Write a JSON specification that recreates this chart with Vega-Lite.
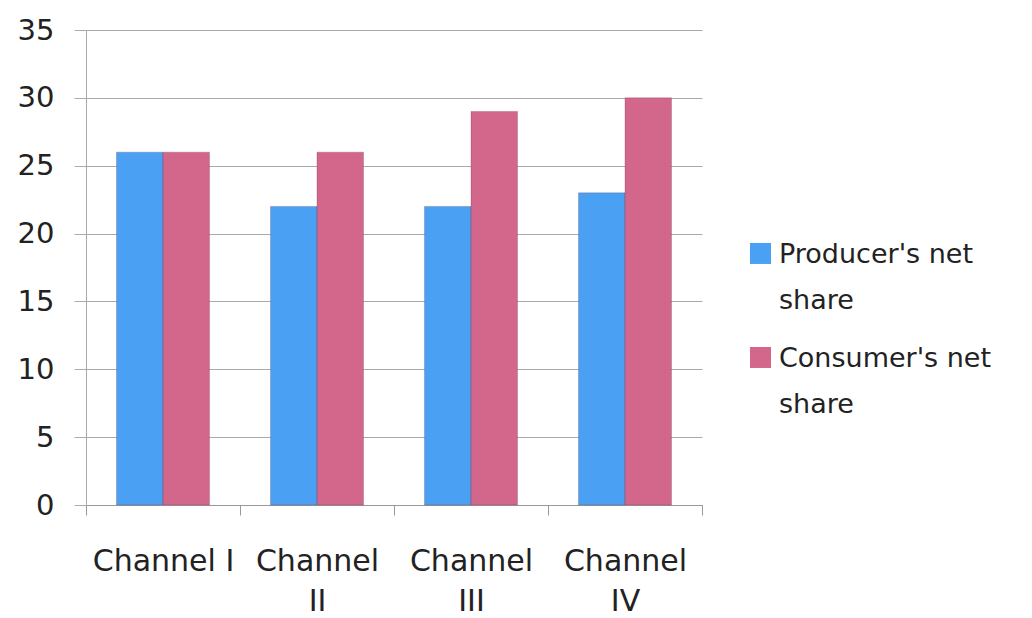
{
  "$schema": "https://vega.github.io/schema/vega-lite/v6.json",
  "width": 616,
  "height": 475,
  "autosize": "none",
  "padding": {"left": 86, "top": 30, "right": 330, "bottom": 113},
  "background": "white",
  "data": {
    "values": [
      {"channel": "Channel I", "series": "Producer's net share", "value": 26},
      {"channel": "Channel I", "series": "Consumer's net share", "value": 26},
      {"channel": "Channel II", "series": "Producer's net share", "value": 22},
      {"channel": "Channel II", "series": "Consumer's net share", "value": 26},
      {"channel": "Channel III", "series": "Producer's net share", "value": 22},
      {"channel": "Channel III", "series": "Consumer's net share", "value": 29},
      {"channel": "Channel IV", "series": "Producer's net share", "value": 23},
      {"channel": "Channel IV", "series": "Consumer's net share", "value": 30}
    ]
  },
  "mark": {"type": "bar", "stroke": "#6a3a4a", "strokeWidth": 0.6, "strokeOpacity": 0.45},
  "encoding": {
    "x": {
      "field": "channel",
      "type": "nominal",
      "sort": null,
      "title": null,
      "scale": {"paddingInner": 0, "paddingOuter": 0},
      "axis": {
        "labelAngle": 0,
        "labelFont": "DejaVu Sans",
        "labelFontSize": 30,
        "labelColor": "#222",
        "labelPadding": 31,
        "labelBaseline": "top",
        "labelLineHeight": 40,
        "labelExpr": "!isValid(datum.value) ? '' : (datum.value == 'Channel I' ? 'Channel I' : split(datum.value, ' '))",
        "tickBand": "extent",
        "tickSize": 10,
        "tickColor": "#999",
        "domainColor": "#999",
        "grid": false
      }
    },
    "xOffset": {
      "field": "series",
      "type": "nominal",
      "sort": ["Producer's net share", "Consumer's net share"],
      "scale": {"paddingInner": 0, "paddingOuter": 0.656}
    },
    "y": {
      "field": "value",
      "type": "quantitative",
      "title": null,
      "scale": {"domain": [0, 35]},
      "axis": {
        "values": [0, 5, 10, 15, 20, 25, 30, 35],
        "labelFont": "DejaVu Sans",
        "labelFontSize": 29,
        "labelColor": "#222",
        "labelPadding": 20,
        "tickSize": 12,
        "tickColor": "#aaa",
        "domainColor": "#aaa",
        "gridColor": "#aaa",
        "gridWidth": 1
      }
    },
    "color": {
      "field": "series",
      "type": "nominal",
      "sort": ["Producer's net share", "Consumer's net share"],
      "scale": {"range": ["#4aa0f2", "#d3668b"]},
      "legend": {
        "title": null,
        "orient": "none",
        "legendX": 661,
        "legendY": 219,
        "symbolType": "M-1,-1.86H1V0.14H-1Z",
        "symbolSize": 441,
        "symbolStrokeWidth": 0,
        "labelFont": "DejaVu Sans",
        "labelFontSize": 27,
        "labelColor": "#222",
        "labelBaseline": "alphabetic",
        "labelOffset": 5,
        "labelLimit": 300,
        "rowPadding": 30,
        "labelExpr": "[replace(datum.label, ' share', ''), 'share']"
      }
    }
  },
  "config": {
    "view": {"stroke": null},
    "style": {"guide-label": {"lineHeight": 46}}
  }
}
